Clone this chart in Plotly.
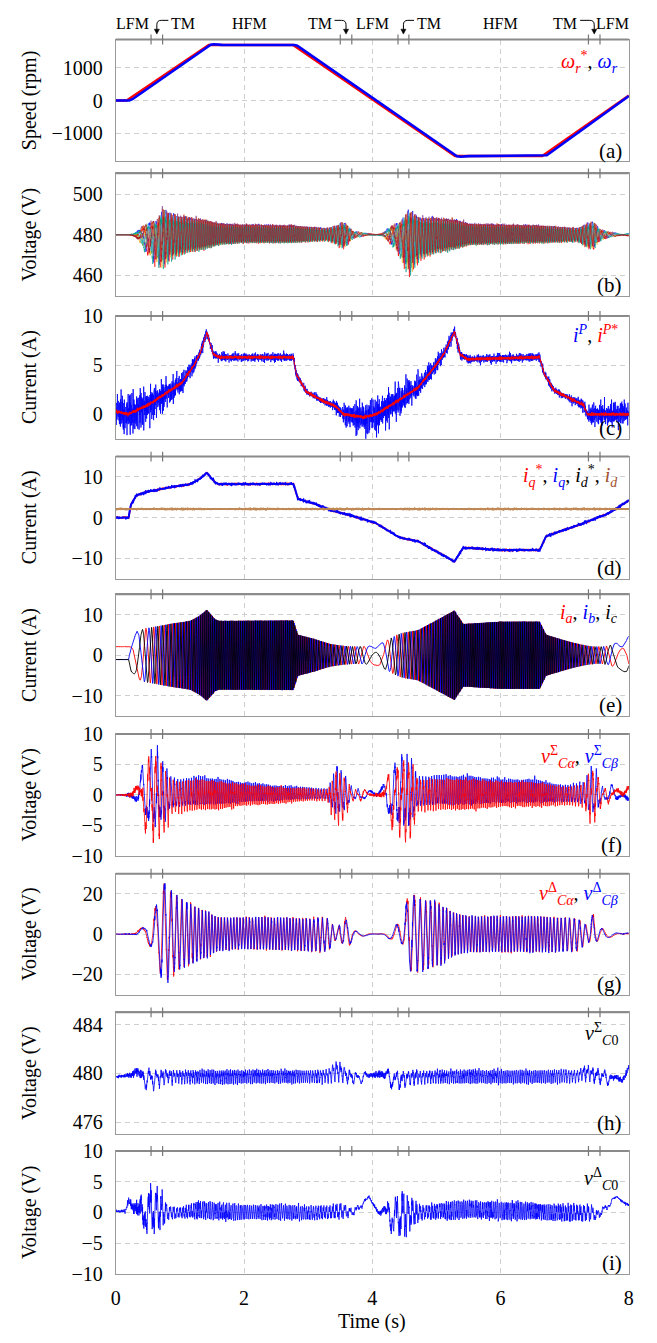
import numpy as np
import plotly.graph_objects as go

# ===================== values =====================
time_ticks = [0, 2, 4, 6, 8]
mode_marks = [0.55, 0.73, 3.50, 3.68, 4.40, 4.57, 7.37, 7.55]
mode_names = ["LFM", "TM", "HFM", "TM", "LFM", "TM", "HFM", "TM", "LFM"]
mode_name_t = [0.26, 1.05, 2.09, 3.18, 4.00, 4.88, 6.00, 7.01, 7.75]
panel_tags = ["(a)", "(b)", "(c)", "(d)", "(e)", "(f)", "(g)", "(h)", "(i)"]

# (a) speed reference / measured speed (rpm)
t_wref = [0.0, 0.17, 1.45, 2.77, 5.29, 6.65, 8.0]
w_ref = [0, 0, 1700, 1700, -1700, -1700, 150]
t_wmeas = [0.0, 0.21, 0.26, 1.48, 1.53, 1.65, 2.79, 2.83, 5.32, 5.38, 5.50, 6.68, 6.72, 8.0]
w_meas = [0, 0, 40, 1710, 1725, 1705, 1700, 1680, -1710, -1725, -1705, -1700, -1680, 136]

# (b) cluster capacitor voltages: upper / lower excursion around 480 V
t_b = [0.0, 0.20, 0.35, 0.50, 0.65, 0.73, 0.85, 1.10, 1.40, 1.60, 2.00, 2.77, 3.30, 3.45, 3.55, 3.70,
       3.90, 4.15, 4.30, 4.45, 4.57, 4.75, 5.00, 5.30, 5.50, 6.60, 7.20, 7.35, 7.45, 7.55, 7.70, 8.00]
b_hi = [0.5, 1.0, 3.5, 6.0, 8.0, 14.0, 11.0, 9.5, 8.0, 6.0, 5.5, 5.0, 3.5, 5.0, 7.0, 2.0,
        1.0, 1.5, 5.0, 7.0, 13.0, 9.0, 9.0, 8.0, 6.0, 5.0, 3.5, 6.0, 7.0, 3.0, 1.5, 1.5]
b_lo = [0.5, 1.0, 4.0, 10.0, 15.0, 17.0, 12.0, 9.0, 7.0, 5.0, 4.0, 4.0, 3.0, 5.0, 7.0, 2.0,
        0.5, 1.5, 5.0, 12.0, 20.0, 12.0, 9.0, 7.0, 5.0, 4.0, 3.5, 6.5, 7.0, 3.0, 1.5, 1.5]
b_v0 = 480.0

# (c) i^P reference and measured noise band (A)
t_ipref = [0.0, 0.19, 0.52, 0.84, 1.03, 1.23, 1.32, 1.42, 1.52, 1.61, 2.77, 2.81, 2.97, 3.23, 3.42, 3.55,
           3.87, 4.06, 4.39, 4.71, 4.97, 5.12, 5.28, 5.37, 5.48, 6.61, 6.68, 6.84, 7.16, 7.29, 7.35, 8.0]
ip_ref = [0.3, 0.0, 1.0, 2.4, 3.2, 5.1, 6.3, 8.3, 6.1, 5.8, 5.8, 4.1, 2.3, 1.35, 0.85, 0.0,
          -0.3, 0.0, 1.35, 2.7, 4.8, 6.2, 8.4, 6.1, 5.6, 5.8, 4.1, 2.4, 1.35, 1.0, 0.0, 0.0]
t_ipn = [0.0, 0.3, 0.6, 1.0, 1.3, 1.5, 2.77, 3.0, 3.3, 3.5, 3.7, 4.0, 4.4, 4.8, 5.2, 5.5, 6.65, 7.0, 7.3, 7.5, 8.0]
ip_noise = [2.2, 2.8, 2.2, 1.4, 0.9, 0.6, 0.6, 0.4, 0.5, 1.0, 1.8, 2.3, 2.2, 1.4, 0.8, 0.6, 0.6, 0.4, 0.8, 1.6, 1.6]

# (d) q / d currents (A)
t_iq = [0.0, 0.20, 0.23, 0.32, 0.45, 0.84, 1.16, 1.30, 1.42, 1.55, 1.61, 2.77, 2.84, 3.10, 3.35,
        3.74, 4.06, 4.39, 4.50, 4.71, 5.03, 5.28, 5.42, 6.00, 6.61, 6.71, 7.29, 7.68, 8.0]
iq = [0.0, 0.0, 3.0, 5.4, 6.2, 7.4, 8.2, 9.4, 11.0, 8.6, 8.2, 8.3, 4.6, 3.4, 1.8,
      0.2, -1.4, -4.6, -5.2, -5.8, -8.6, -10.8, -7.4, -8.0, -8.0, -4.6, -1.4, 1.0, 4.2]
id_level = 2.1

# (f) sigma alpha/beta capacitor voltages envelopes (V)
t_f = [0.0, 0.15, 0.25, 0.35, 0.45, 0.60, 0.70, 0.80, 0.85, 1.00, 1.30, 1.60, 2.00, 2.50, 3.00, 3.30,
       3.45, 3.60, 3.70, 3.90, 4.05, 4.20, 4.35, 4.50, 4.60, 4.70, 5.00, 5.50, 6.00, 6.50, 7.00, 7.30,
       7.40, 7.50, 7.60, 7.90, 8.00]
f_hi = [0.5, 1.0, 2.5, 3.0, 6.0, 7.5, 6.0, 4.0, 3.0, 2.5, 3.0, 2.5, 2.0, 1.5, 1.2, 1.0,
        4.5, 2.5, 1.0, 1.0, 1.5, 3.0, 5.0, 6.5, 6.0, 3.0, 3.0, 3.0, 2.5, 2.5, 1.5, 2.0,
        4.5, 4.0, 1.0, 2.5, 3.0]
f_lo = [0.5, 1.0, 2.5, 3.0, 6.0, 8.0, 7.0, 6.0, 3.0, 3.0, 2.5, 2.5, 1.8, 1.5, 1.0, 1.0,
        5.5, 3.0, 1.0, 1.0, 1.5, 4.0, 6.5, 8.0, 7.5, 3.0, 2.5, 2.5, 2.0, 2.0, 1.8, 2.0,
        5.0, 4.0, 1.0, 2.5, 2.5]

# (g) delta alpha/beta capacitor voltages envelopes (V)
t_g = [0.0, 0.15, 0.30, 0.45, 0.55, 0.65, 0.72, 0.80, 0.90, 1.00, 1.20, 1.40, 1.60, 2.00, 2.50, 3.00,
       3.30, 3.45, 3.55, 3.62, 3.70, 3.80, 4.20, 4.25, 4.40, 4.50, 4.57, 4.70, 5.00, 5.30, 5.50, 6.50,
       7.20, 7.35, 7.45, 7.55, 7.70, 8.00]
g_hi = [1, 2, 3.5, 3, 8, 15, 26, 22, 19, 17, 14, 11, 8, 8, 8, 7.5,
        7.5, 2, 10, 5, 2, 1, 1, 2, 5, 10, 21, 17, 15, 10, 8.5, 8.5,
        7.5, 4, 10, 3, 1.5, 2]
g_lo = [1, 2, 2, 5, 6, 10, 23, 22, 18, 17, 14, 11, 8, 7, 7.5, 8,
        8.5, 2, 5, 7, 2, 1, 1, 2, 4, 5, 18, 18, 15, 10, 8.5, 8.5,
        8, 4, 4, 3, 1.5, 2]

# (h) sigma zero-sequence voltage (V)
t_h = [0.0, 0.30, 0.55, 0.80, 1.00, 3.30, 3.45, 3.60, 3.80, 4.10, 4.40, 4.60, 5.00, 7.20, 7.30, 7.60, 7.90, 8.00]
h_mid = [479.7, 479.9, 479.5, 479.8, 479.75, 479.8, 480.3, 479.8, 479.6, 479.9, 479.4, 479.7, 479.75,
         479.8, 480.1, 479.7, 479.4, 480.2]
h_amp = [0.4, 0.9, 0.9, 0.55, 0.6, 0.6, 1.0, 0.65, 0.45, 0.8, 0.8, 0.6, 0.6, 0.6, 0.65, 0.65, 0.55, 0.8]

# (i) delta zero-sequence voltage (V)
t_i = [0.0, 0.15, 0.20, 0.30, 0.45, 0.60, 0.70, 0.80, 1.00, 1.30, 1.60, 2.00, 2.50, 3.00, 3.30, 3.50,
       3.70, 3.95, 4.10, 4.30, 4.50, 4.65, 4.80, 5.30, 5.80, 6.50, 7.00, 7.40, 7.50, 7.65, 7.80, 8.00]
i_mid = [0.2, 0.2, 2.0, 0.0, 0.0, 0.5, 0.3, 0.0, 0.0, 0.4, 0.2, 0.0, 0.1, -0.1, 0.0, 0.3,
         0.0, 2.4, 0.0, -0.5, -0.5, 0.0, 0.0, 0.5, 0.4, 0.2, -0.1, 0.0, -0.5, 0.8, 2.5, 1.0]
i_amp = [0.5, 0.8, 1.5, 2.8, 3.3, 4.2, 3.8, 1.4, 1.0, 1.8, 1.6, 1.5, 1.4, 1.4, 1.3, 1.6,
         0.6, 0.5, 1.0, 3.2, 4.7, 2.2, 1.2, 1.8, 1.7, 1.7, 1.6, 1.5, 0.9, 0.6, 0.5, 0.9]

# axes
y_ranges = [[-1870, 1870], [449.5, 510.5], [-2.5, 10], [-15, 15], [-15, 15], [-10, 10], [-30, 30], [475, 485], [-10, 10]]
y_ticks = [[-1000, 0, 1000], [460, 480, 500], [0, 5, 10], [-10, 0, 10], [-10, 0, 10],
           [-10, -5, 0, 5, 10], [-20, 0, 20], [476, 480, 484], [-10, -5, 0, 5, 10]]
y_titles = ["Speed (rpm)", "Voltage (V)", "Current (A)", "Current (A)", "Current (A)",
            "Voltage (V)", "Voltage (V)", "Voltage (V)", "Voltage (V)"]

# ===================== signal synthesis on a dense time grid =====================
dt = 0.001
t = np.linspace(0.0, 8.0, 8001)
w_dense = np.interp(t, t_wmeas, w_meas)
mech_rev = np.concatenate([[0.0], np.cumsum(0.5 * (w_dense[1:] + w_dense[:-1])) * dt / 60.0])
elec_per_mech = 1.2
i_al = np.searchsorted(t, 4.0)
n_al = elec_per_mech * mech_rev[i_al]
elec_per_mech *= (np.floor(n_al) + 0.5) / n_al
theta = 2 * np.pi * elec_per_mech * mech_rev
act = np.clip(np.abs(w_dense) / 250.0, 0.0, 1.0)


def ripple(freqs, phases):
    s = np.zeros_like(t)
    for f, p in zip(freqs, phases):
        s += np.sin(2 * np.pi * f * t + p)
    return s / np.abs(s).max()


def nz(seed):
    base = np.array([97.3, 143.9, 211.7, 283.3, 367.1, 431.9, 173.3, 329.7])
    return ripple(base * (1 + 0.037 * seed), [(seed * 1.7 + q * 2.3) % 6.28 for q in range(8)])


def spiky(seed):
    s = nz(seed)
    s = np.sign(s) * np.abs(s) ** 1.4
    return s / np.abs(s).max()


def split_env(c, hi, lo):
    return np.where(c > 0, hi * c, lo * c)


def f32(a):
    return np.asarray(a, dtype=np.float32)


# (b)
b_colors = ["#0000FF", "#EDB120", "#7E2F8E", "#77AC30", "#FF0000", "#4DBEEE", "#D95319", "#00A08A", "#A2142F"]
b_gain = [1.0, 0.9, 0.95, 0.85, 1.0, 0.8, 0.9, 1.0, 0.95]
bh = np.interp(t, t_b, b_hi)
bl = np.interp(t, t_b, b_lo)
b_traces = []
for j, col in enumerate(b_colors):
    ph = 2 * np.pi * ((4 * j) % 9) / 9
    c = 0.78 * np.sin(theta + ph) + 0.22 * np.sin(2 * theta + 1.3 * j)
    c = act * c * b_gain[j] + 0.25 * spiky(j + 1)
    b_traces.append((b_v0 + split_env(c, bh, bl), col))

# (c)
ipr = np.interp(t, t_ipref, ip_ref)
ipn = np.interp(t, t_ipn, ip_noise)
ip_meas = ipr + ipn * spiky(11) * 1.25
ip_refn = ipr + 0.25 * nz(12)

# (d)
iq_d = np.interp(t, t_iq, iq)
iq_meas = iq_d + 0.3 * nz(13)
iq_refn = iq_d + 0.15 * nz(14)
id_meas = id_level + 0.45 * nz(15)

# (e)
ia = id_level * np.cos(theta) - iq_d * np.sin(theta) + 0.08 * nz(16)
ib = id_level * np.cos(theta - 2 * np.pi / 3) - iq_d * np.sin(theta - 2 * np.pi / 3) + 0.08 * nz(17)
ic = id_level * np.cos(theta + 2 * np.pi / 3) - iq_d * np.sin(theta + 2 * np.pi / 3) + 0.08 * nz(18)

# (f)
fh = np.interp(t, t_f, f_hi)
fl = np.interp(t, t_f, f_lo)
f_a = split_env(act * (0.7 * np.sin(theta + 0.4) + 0.3 * np.sin(2 * theta + 1.1)) + 0.3 * spiky(19), fh, fl)
f_b = split_env(act * (0.7 * np.sin(theta - 1.2) + 0.3 * np.sin(2 * theta + 2.5)) + 0.3 * spiky(20), fh, fl)

# (g)
gh = np.interp(t, t_g, g_hi)
gl = np.interp(t, t_g, g_lo)
theta_g = 0.6 * theta
g_a = split_env(act * np.sin(theta_g) + 0.2 * spiky(21), gh, gl)
g_b = split_env(act * np.sin(theta_g - 0.5) + 0.2 * spiky(22), gh, gl)

# (h)
hm = np.interp(t, t_h, h_mid)
ha = np.interp(t, t_h, h_amp)
h_sig = hm + ha * (act * (0.6 * np.sin(theta) + 0.35 * np.sin(2 * theta + 0.7)) + 0.55 * spiky(23))

# (i)
im = np.interp(t, t_i, i_mid)
iam = np.interp(t, t_i, i_amp)
i_sig = im + iam * (act * (0.55 * np.sin(theta) + 0.35 * np.sin(3 * theta + 0.5)) + 0.6 * spiky(24))

# ===================== figure =====================
W, H = 657, 1343
XL, XR = 112.5, 633.5
panel_px = [(29, 153), (165, 290), (310, 435), (453, 577), (593, 717), (735, 859), (877, 1000), (1018, 1142), (1159, 1284)]
FONT = "Liberation Serif, Times New Roman, Times, serif"
AXC = "#9a9a9a"
GRIDC = "#cfcfcf"
RED, BLUE, BLACK, BROWN = "#ff0000", "#0000ff", "#000000", "#c58b55"


def px2t(px):
    return (px - XL) / (XR - XL) * 8.0


def pyp(p):
    return 1 - p / H


fig = go.Figure()
tx = f32(t)


def add(k, x, y, color, width):
    fig.add_trace(go.Scatter(x=x, y=y, mode="lines", line=dict(color=color, width=width),
                             xaxis="x" if k == 1 else f"x{k}", yaxis="y" if k == 1 else f"y{k}",
                             hoverinfo="skip", showlegend=False))


add(1, t_wref, w_ref, RED, 2.6)
add(1, t_wmeas, w_meas, BLUE, 2.6)
for y, col in b_traces:
    add(2, tx, f32(y), col, 0.6)
add(3, tx, f32(ip_meas), BLUE, 0.8)
add(3, tx, f32(ip_refn), RED, 0.9)
add(4, tx, f32(iq_refn), RED, 1.6)
add(4, tx, f32(iq_meas), BLUE, 2.0)
add(4, [0, 8], [id_level, id_level], BLACK, 1.0)
add(4, tx, f32(id_meas), BROWN, 0.9)
add(5, tx, f32(ia), RED, 0.9)
add(5, tx, f32(ib), BLUE, 0.9)
add(5, tx, f32(ic), BLACK, 0.9)
add(6, tx, f32(f_b), BLUE, 0.8)
add(6, tx, f32(f_a), RED, 0.8)
add(7, tx, f32(g_a), RED, 0.8)
add(7, tx, f32(g_b), BLUE, 0.8)
add(8, tx, f32(h_sig), BLUE, 0.8)
add(9, tx, f32(i_sig), BLUE, 0.8)

layout = dict(width=W, height=H, margin=dict(l=0, r=0, t=0, b=0),
              paper_bgcolor="white", plot_bgcolor="white", showlegend=False,
              font=dict(family=FONT, size=20, color="black"))
shapes = []
annotations = []
for i, (top, bot) in enumerate(panel_px):
    k = i + 1
    xn = "xaxis" if k == 1 else f"xaxis{k}"
    yn = "yaxis" if k == 1 else f"yaxis{k}"
    layout[xn] = dict(domain=[XL / W, XR / W], range=[0, 8], anchor="y" if k == 1 else f"y{k}",
                      tickvals=time_ticks, showticklabels=(k == 9), showgrid=True, gridcolor=GRIDC,
                      griddash="5px,4px", gridwidth=1, showline=True, linecolor=AXC, linewidth=1,
                      mirror=True, zeroline=False, ticks="", ticklabelstandoff=6,
                      tickfont=dict(family=FONT, size=20, color="black"))
    if k > 1:
        layout[xn]["matches"] = "x"
    layout[yn] = dict(domain=[pyp(bot), pyp(top)], range=y_ranges[i], tickvals=y_ticks[i],
                      showgrid=True, gridcolor=GRIDC, griddash="5px,4px", gridwidth=1,
                      showline=True, linecolor=AXC, linewidth=1, mirror=True, zeroline=False,
                      ticks="", ticklabelstandoff=8, anchor="x" if k == 1 else f"x{k}",
                      tickfont=dict(family=FONT, size=20, color="black"))
    shapes.append(dict(type="line", xref="paper", yref="paper", x0=XL / W, x1=XR / W,
                       y0=pyp(top), y1=pyp(top), line=dict(color="#8a8a8a", width=2)))
    for m in mode_marks:
        shapes.append(dict(type="line", xref="x", yref="paper", x0=m, x1=m,
                           y0=pyp(top - 5), y1=pyp(top + 5), line=dict(color="#777777", width=1.2)))
    annotations.append(dict(x=25 / W, y=pyp((top + bot) / 2), xref="paper", yref="paper",
                            text=y_titles[i], textangle=-90, showarrow=False,
                            font=dict(family=FONT, size=20, color="black"),
                            xanchor="center", yanchor="middle"))
    annotations.append(dict(x=629 / W, y=pyp(bot - 11), xref="paper", yref="paper",
                            text=panel_tags[i], showarrow=False,
                            font=dict(family=FONT, size=21, color="black"),
                            xanchor="right", yanchor="middle"))


def span(c, s):
    return f"<span style='color:{c}'>{s}</span>"


legend_txt = {
    0: span(RED, "<i>ω</i><sub><i>r</i></sub><sup>*</sup>") + ", " + span(BLUE, "<i>ω</i><sub><i>r</i></sub>"),
    2: span(BLUE, "<i>i</i><sup><i>P</i></sup>") + ", " + span(RED, "<i>i</i><sup><i>P</i>*</sup>"),
    3: span(RED, "<i>i</i><sub><i>q</i></sub><sup>*</sup>") + ", " + span(BLUE, "<i>i</i><sub><i>q</i></sub>")
       + ", <i>i</i><sub><i>d</i></sub><sup>*</sup>, " + span("#a0522d", "<i>i</i><sub><i>d</i></sub>"),
    4: span(RED, "<i>i</i><sub><i>a</i></sub>") + ", " + span(BLUE, "<i>i</i><sub><i>b</i></sub>")
       + ", <i>i</i><sub><i>c</i></sub>",
    5: span(RED, "<i>v</i><sup>Σ</sup><sub><i>Cα</i></sub>") + ", " + span(BLUE, "<i>v</i><sup>Σ</sup><sub><i>Cβ</i></sub>"),
    6: span(RED, "<i>v</i><sup>Δ</sup><sub><i>Cα</i></sub>") + ", " + span(BLUE, "<i>v</i><sup>Δ</sup><sub><i>Cβ</i></sub>"),
    7: "<i>v</i><sup>Σ</sup><sub><i>C</i>0</sub>",
    8: "<i>v</i><sup>Δ</sup><sub><i>C</i>0</sub>",
}
legend_y = {0: 52, 2: 328, 3: 473, 4: 613, 5: 758, 6: 898, 7: 1040, 8: 1187}
for i, txt in legend_txt.items():
    annotations.append(dict(x=624 / W, y=pyp(legend_y[i]), xref="paper", yref="paper", text=txt,
                            showarrow=False, font=dict(family=FONT, size=20, color="black"),
                            xanchor="right", yanchor="middle"))

for name, tm in zip(mode_names, mode_name_t):
    annotations.append(dict(x=tm, y=pyp(13), xref="x", yref="paper", text=name, showarrow=False,
                            font=dict(family=FONT, size=16, color="black"),
                            xanchor="center", yanchor="middle"))


def hook(start_px, tip_px):
    d = 1 if tip_px > start_px else -1
    yl, r = 9.5, 4.5
    p = (f"M {px2t(start_px)},{pyp(yl)} L {px2t(tip_px - d * r)},{pyp(yl)} "
         f"Q {px2t(tip_px)},{pyp(yl)} {px2t(tip_px)},{pyp(yl + r)} L {px2t(tip_px)},{pyp(19)}")
    shapes.append(dict(type="path", xref="x", yref="paper", path=p, line=dict(color="black", width=1)))
    a = (f"M {px2t(tip_px - 2.6)},{pyp(18.5)} L {px2t(tip_px + 2.6)},{pyp(18.5)} "
         f"L {px2t(tip_px)},{pyp(23.5)} Z")
    shapes.append(dict(type="path", xref="x", yref="paper", path=a, fillcolor="black",
                       line=dict(color="black", width=0.5)))


def tpx(tv):
    return XL + tv / 8.0 * (XR - XL)


hook(tpx(1.05) - 15, tpx(0.5 * (mode_marks[0] + mode_marks[1])))
hook(tpx(3.18) + 15, tpx(0.5 * (mode_marks[2] + mode_marks[3])))
hook(tpx(4.88) - 15, tpx(0.5 * (mode_marks[4] + mode_marks[5])))
hook(tpx(7.01) + 15, tpx(0.5 * (mode_marks[6] + mode_marks[7])))

annotations.append(dict(x=((XL + XR) / 2) / W, y=pyp(1332), xref="paper", yref="paper", text="Time (s)",
                        showarrow=False, font=dict(family=FONT, size=20, color="black"),
                        xanchor="center", yanchor="middle"))

layout["shapes"] = shapes
layout["annotations"] = annotations
fig.update_layout(**layout)
fig.write_html("out.html", config={"displayModeBar": False},
               post_script="document.body.style.margin='0px';document.body.style.overflow='hidden';")
